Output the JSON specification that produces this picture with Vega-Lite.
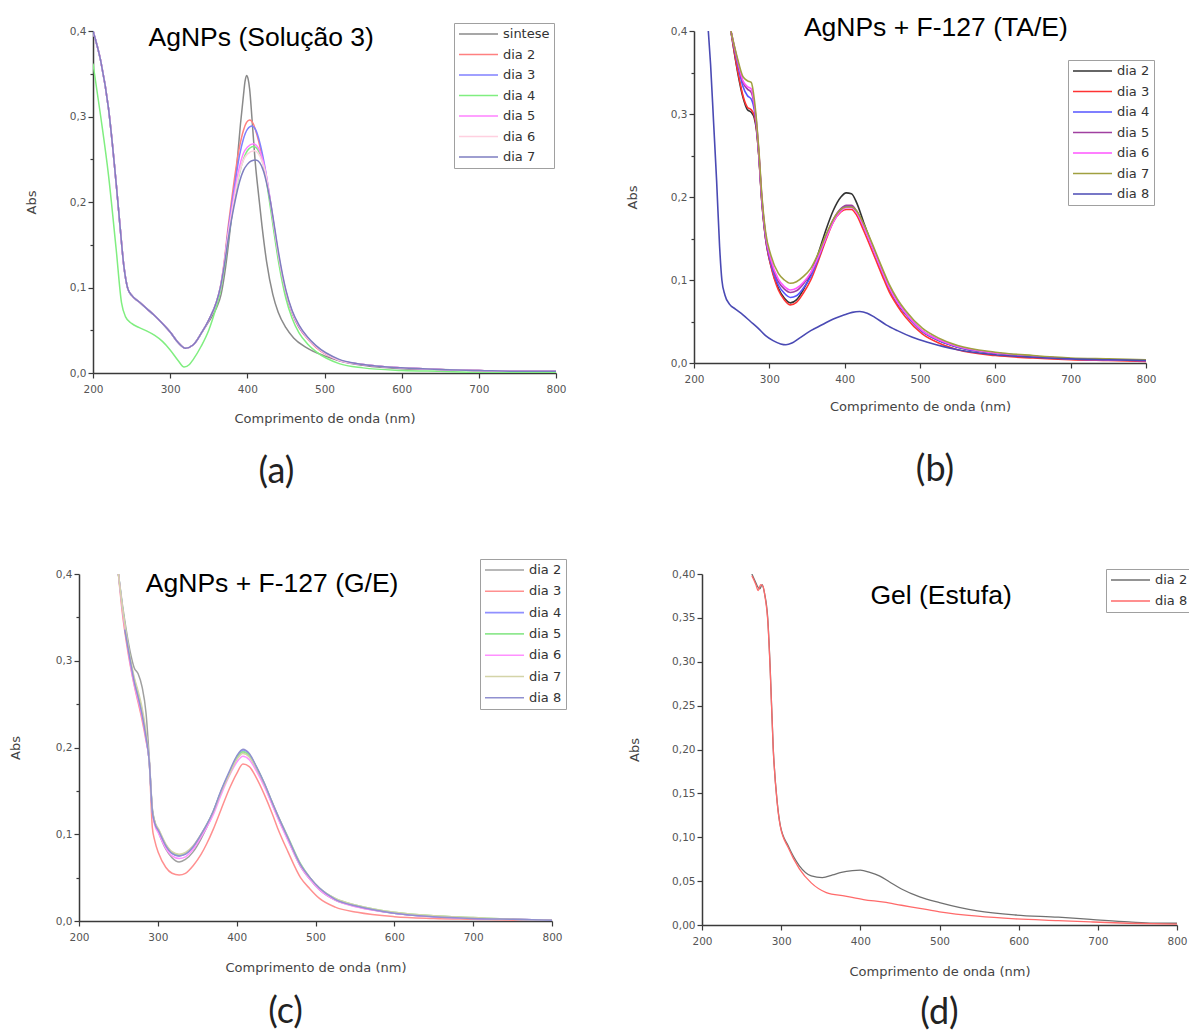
{
"$schema": "https://vega.github.io/schema/vega-lite/v6.json",
"background": "white",
"padding": {"left": 9, "top": 15, "right": 0, "bottom": 0},
"config": {
  "view": {"stroke": null},
  "font": "DejaVu Sans",
  "axis": {"grid": false, "domainColor": "#3a3a3a", "domainWidth": 1.5, "tickColor": "#3a3a3a", "tickWidth": 1.2, "labelFont": "DejaVu Sans", "labelFontSize": 10.5, "labelColor": "#555555", "labelPadding": 2, "titleFont": "DejaVu Sans", "titleFontSize": 13, "titleFontWeight": "normal", "titleColor": "#444444", "labelFlush": false, "labelOverlap": false},
  "axisX": {"labelPadding": 6},
  "legend": {"symbolType": "stroke", "symbolSize": 1521, "symbolStrokeWidth": 1.6, "clipHeight": 14, "rowPadding": 6.5, "padding": 4, "strokeColor": "#a0a0a0", "fillColor": "white", "labelFont": "DejaVu Sans", "labelFontSize": 13, "labelColor": "#333333", "labelOffset": 4}
},
"datasets": {
"a": [
{"s":"sintese","x":200,"y":0.4},{"s":"sintese","x":210,"y":0.365},{"s":"sintese","x":220,"y":0.31},{"s":"sintese","x":230,"y":0.222},{"s":"sintese","x":235,"y":0.172},{"s":"sintese","x":240,"y":0.125},{"s":"sintese","x":245,"y":0.099},{"s":"sintese","x":250,"y":0.091},{"s":"sintese","x":260,"y":0.083},{"s":"sintese","x":270,"y":0.075},{"s":"sintese","x":280,"y":0.067},{"s":"sintese","x":290,"y":0.058},{"s":"sintese","x":300,"y":0.048},{"s":"sintese","x":310,"y":0.036},{"s":"sintese","x":320,"y":0.029},{"s":"sintese","x":330,"y":0.033},{"s":"sintese","x":340,"y":0.046},
{"s":"sintese","x":350,"y":0.06},{"s":"sintese","x":360,"y":0.076},{"s":"sintese","x":366,"y":0.092},{"s":"sintese","x":372,"y":0.125},{"s":"sintese","x":378,"y":0.17},{"s":"sintese","x":383,"y":0.21},{"s":"sintese","x":387,"y":0.249},{"s":"sintese","x":391,"y":0.29},{"s":"sintese","x":395,"y":0.325},{"s":"sintese","x":397,"y":0.341},{"s":"sintese","x":399,"y":0.348},{"s":"sintese","x":401,"y":0.344},{"s":"sintese","x":403,"y":0.332},{"s":"sintese","x":406,"y":0.298},{"s":"sintese","x":410,"y":0.249},{"s":"sintese","x":415,"y":0.205},{"s":"sintese","x":419,"y":0.172},{"s":"sintese","x":425,"y":0.13},{"s":"sintese","x":433,"y":0.092},{"s":"sintese","x":440,"y":0.071},{"s":"sintese","x":450,"y":0.053},{"s":"sintese","x":460,"y":0.041},{"s":"sintese","x":476,"y":0.03},{"s":"sintese","x":500,"y":0.02},{"s":"sintese","x":520,"y":0.014},{"s":"sintese","x":550,"y":0.009},{"s":"sintese","x":600,"y":0.005},{"s":"sintese","x":650,"y":0.004},{"s":"sintese","x":700,"y":0.003},{"s":"sintese","x":750,"y":0.002},{"s":"sintese","x":800,"y":0.002},

{"s":"dia 2","x":200,"y":0.4},{"s":"dia 2","x":210,"y":0.365},{"s":"dia 2","x":220,"y":0.31},{"s":"dia 2","x":230,"y":0.222},{"s":"dia 2","x":235,"y":0.172},{"s":"dia 2","x":240,"y":0.125},{"s":"dia 2","x":245,"y":0.099},{"s":"dia 2","x":250,"y":0.091},{"s":"dia 2","x":260,"y":0.083},{"s":"dia 2","x":270,"y":0.075},{"s":"dia 2","x":280,"y":0.067},{"s":"dia 2","x":290,"y":0.058},{"s":"dia 2","x":300,"y":0.048},{"s":"dia 2","x":310,"y":0.036},{"s":"dia 2","x":320,"y":0.029},{"s":"dia 2","x":330,"y":0.033},{"s":"dia 2","x":340,"y":0.046},
{"s":"dia 2","x":350,"y":0.062},{"s":"dia 2","x":360,"y":0.083},{"s":"dia 2","x":365,"y":0.1},{"s":"dia 2","x":370,"y":0.13},{"s":"dia 2","x":375,"y":0.17},{"s":"dia 2","x":380,"y":0.205},{"s":"dia 2","x":385,"y":0.238},{"s":"dia 2","x":390,"y":0.265},{"s":"dia 2","x":395,"y":0.284},{"s":"dia 2","x":399,"y":0.293},{"s":"dia 2","x":403,"y":0.296},{"s":"dia 2","x":408,"y":0.291},{"s":"dia 2","x":412,"y":0.28},{"s":"dia 2","x":418,"y":0.258},{"s":"dia 2","x":424,"y":0.23},{"s":"dia 2","x":428,"y":0.21},{"s":"dia 2","x":434,"y":0.172},{"s":"dia 2","x":441,"y":0.131},{"s":"dia 2","x":450,"y":0.092},{"s":"dia 2","x":458,"y":0.07},{"s":"dia 2","x":467,"y":0.053},{"s":"dia 2","x":478,"y":0.04},{"s":"dia 2","x":489,"y":0.03},{"s":"dia 2","x":519,"y":0.015},{"s":"dia 2","x":550,"y":0.01},{"s":"dia 2","x":600,"y":0.006},{"s":"dia 2","x":650,"y":0.004},{"s":"dia 2","x":700,"y":0.003},{"s":"dia 2","x":750,"y":0.002},{"s":"dia 2","x":800,"y":0.002},

{"s":"dia 3","x":200,"y":0.4},{"s":"dia 3","x":210,"y":0.365},{"s":"dia 3","x":220,"y":0.31},{"s":"dia 3","x":230,"y":0.222},{"s":"dia 3","x":235,"y":0.172},{"s":"dia 3","x":240,"y":0.125},{"s":"dia 3","x":245,"y":0.099},{"s":"dia 3","x":250,"y":0.091},{"s":"dia 3","x":260,"y":0.083},{"s":"dia 3","x":270,"y":0.075},{"s":"dia 3","x":280,"y":0.067},{"s":"dia 3","x":290,"y":0.058},{"s":"dia 3","x":300,"y":0.048},{"s":"dia 3","x":310,"y":0.036},{"s":"dia 3","x":320,"y":0.029},{"s":"dia 3","x":330,"y":0.033},{"s":"dia 3","x":340,"y":0.046},
{"s":"dia 3","x":350,"y":0.062},{"s":"dia 3","x":360,"y":0.083},{"s":"dia 3","x":365,"y":0.099},{"s":"dia 3","x":370,"y":0.127},{"s":"dia 3","x":375,"y":0.165},{"s":"dia 3","x":380,"y":0.198},{"s":"dia 3","x":385,"y":0.228},{"s":"dia 3","x":390,"y":0.255},{"s":"dia 3","x":395,"y":0.274},{"s":"dia 3","x":400,"y":0.285},{"s":"dia 3","x":406,"y":0.289},{"s":"dia 3","x":411,"y":0.284},{"s":"dia 3","x":416,"y":0.27},{"s":"dia 3","x":422,"y":0.245},{"s":"dia 3","x":428,"y":0.212},{"s":"dia 3","x":434,"y":0.174},{"s":"dia 3","x":441,"y":0.133},{"s":"dia 3","x":450,"y":0.094},{"s":"dia 3","x":458,"y":0.071},{"s":"dia 3","x":467,"y":0.054},{"s":"dia 3","x":478,"y":0.041},{"s":"dia 3","x":489,"y":0.031},{"s":"dia 3","x":519,"y":0.015},{"s":"dia 3","x":550,"y":0.01},{"s":"dia 3","x":600,"y":0.006},{"s":"dia 3","x":650,"y":0.004},{"s":"dia 3","x":700,"y":0.003},{"s":"dia 3","x":750,"y":0.002},{"s":"dia 3","x":800,"y":0.002},

{"s":"dia 4","x":200,"y":0.362},{"s":"dia 4","x":210,"y":0.3},{"s":"dia 4","x":220,"y":0.232},{"s":"dia 4","x":230,"y":0.145},{"s":"dia 4","x":237,"y":0.082},{"s":"dia 4","x":242,"y":0.066},{"s":"dia 4","x":250,"y":0.058},{"s":"dia 4","x":260,"y":0.053},{"s":"dia 4","x":270,"y":0.049},{"s":"dia 4","x":280,"y":0.044},{"s":"dia 4","x":290,"y":0.037},{"s":"dia 4","x":300,"y":0.027},{"s":"dia 4","x":310,"y":0.015},{"s":"dia 4","x":318,"y":0.007},{"s":"dia 4","x":325,"y":0.01},{"s":"dia 4","x":330,"y":0.016},{"s":"dia 4","x":340,"y":0.031},
{"s":"dia 4","x":350,"y":0.05},{"s":"dia 4","x":360,"y":0.078},{"s":"dia 4","x":365,"y":0.095},{"s":"dia 4","x":370,"y":0.122},{"s":"dia 4","x":375,"y":0.155},{"s":"dia 4","x":380,"y":0.185},{"s":"dia 4","x":385,"y":0.212},{"s":"dia 4","x":390,"y":0.234},{"s":"dia 4","x":395,"y":0.25},{"s":"dia 4","x":400,"y":0.26},{"s":"dia 4","x":408,"y":0.265},{"s":"dia 4","x":413,"y":0.262},{"s":"dia 4","x":418,"y":0.252},{"s":"dia 4","x":423,"y":0.235},{"s":"dia 4","x":428,"y":0.205},{"s":"dia 4","x":434,"y":0.168},{"s":"dia 4","x":441,"y":0.127},{"s":"dia 4","x":450,"y":0.087},{"s":"dia 4","x":458,"y":0.064},{"s":"dia 4","x":467,"y":0.047},{"s":"dia 4","x":478,"y":0.034},{"s":"dia 4","x":489,"y":0.025},{"s":"dia 4","x":519,"y":0.011},{"s":"dia 4","x":550,"y":0.006},{"s":"dia 4","x":600,"y":0.003},{"s":"dia 4","x":650,"y":0.002},{"s":"dia 4","x":700,"y":0.001},{"s":"dia 4","x":750,"y":0.001},{"s":"dia 4","x":800,"y":0.001},

{"s":"dia 5","x":200,"y":0.4},{"s":"dia 5","x":210,"y":0.365},{"s":"dia 5","x":220,"y":0.31},{"s":"dia 5","x":230,"y":0.222},{"s":"dia 5","x":235,"y":0.172},{"s":"dia 5","x":240,"y":0.125},{"s":"dia 5","x":245,"y":0.099},{"s":"dia 5","x":250,"y":0.091},{"s":"dia 5","x":260,"y":0.083},{"s":"dia 5","x":270,"y":0.075},{"s":"dia 5","x":280,"y":0.067},{"s":"dia 5","x":290,"y":0.058},{"s":"dia 5","x":300,"y":0.048},{"s":"dia 5","x":310,"y":0.036},{"s":"dia 5","x":320,"y":0.029},{"s":"dia 5","x":330,"y":0.033},{"s":"dia 5","x":340,"y":0.046},
{"s":"dia 5","x":350,"y":0.062},{"s":"dia 5","x":360,"y":0.083},{"s":"dia 5","x":365,"y":0.1},{"s":"dia 5","x":370,"y":0.128},{"s":"dia 5","x":375,"y":0.162},{"s":"dia 5","x":380,"y":0.192},{"s":"dia 5","x":385,"y":0.22},{"s":"dia 5","x":390,"y":0.242},{"s":"dia 5","x":395,"y":0.257},{"s":"dia 5","x":400,"y":0.264},{"s":"dia 5","x":408,"y":0.268},{"s":"dia 5","x":413,"y":0.265},{"s":"dia 5","x":418,"y":0.255},{"s":"dia 5","x":423,"y":0.238},{"s":"dia 5","x":428,"y":0.212},{"s":"dia 5","x":434,"y":0.176},{"s":"dia 5","x":441,"y":0.135},{"s":"dia 5","x":450,"y":0.095},{"s":"dia 5","x":458,"y":0.072},{"s":"dia 5","x":467,"y":0.055},{"s":"dia 5","x":478,"y":0.041},{"s":"dia 5","x":489,"y":0.031},{"s":"dia 5","x":519,"y":0.015},{"s":"dia 5","x":550,"y":0.01},{"s":"dia 5","x":600,"y":0.006},{"s":"dia 5","x":650,"y":0.004},{"s":"dia 5","x":700,"y":0.003},{"s":"dia 5","x":750,"y":0.002},{"s":"dia 5","x":800,"y":0.002},

{"s":"dia 6","x":200,"y":0.4},{"s":"dia 6","x":210,"y":0.365},{"s":"dia 6","x":220,"y":0.31},{"s":"dia 6","x":230,"y":0.222},{"s":"dia 6","x":235,"y":0.172},{"s":"dia 6","x":240,"y":0.125},{"s":"dia 6","x":245,"y":0.099},{"s":"dia 6","x":250,"y":0.091},{"s":"dia 6","x":260,"y":0.083},{"s":"dia 6","x":270,"y":0.075},{"s":"dia 6","x":280,"y":0.067},{"s":"dia 6","x":290,"y":0.058},{"s":"dia 6","x":300,"y":0.048},{"s":"dia 6","x":310,"y":0.036},{"s":"dia 6","x":320,"y":0.029},{"s":"dia 6","x":330,"y":0.033},{"s":"dia 6","x":340,"y":0.046},
{"s":"dia 6","x":350,"y":0.062},{"s":"dia 6","x":360,"y":0.083},{"s":"dia 6","x":365,"y":0.1},{"s":"dia 6","x":370,"y":0.127},{"s":"dia 6","x":375,"y":0.16},{"s":"dia 6","x":380,"y":0.188},{"s":"dia 6","x":385,"y":0.214},{"s":"dia 6","x":390,"y":0.235},{"s":"dia 6","x":395,"y":0.249},{"s":"dia 6","x":400,"y":0.256},{"s":"dia 6","x":409,"y":0.26},{"s":"dia 6","x":414,"y":0.257},{"s":"dia 6","x":419,"y":0.248},{"s":"dia 6","x":424,"y":0.232},{"s":"dia 6","x":428,"y":0.211},{"s":"dia 6","x":434,"y":0.176},{"s":"dia 6","x":441,"y":0.135},{"s":"dia 6","x":450,"y":0.095},{"s":"dia 6","x":458,"y":0.072},{"s":"dia 6","x":467,"y":0.055},{"s":"dia 6","x":478,"y":0.041},{"s":"dia 6","x":489,"y":0.031},{"s":"dia 6","x":519,"y":0.015},{"s":"dia 6","x":550,"y":0.01},{"s":"dia 6","x":600,"y":0.006},{"s":"dia 6","x":650,"y":0.004},{"s":"dia 6","x":700,"y":0.003},{"s":"dia 6","x":750,"y":0.002},{"s":"dia 6","x":800,"y":0.002},

{"s":"dia 7","x":200,"y":0.4},{"s":"dia 7","x":210,"y":0.365},{"s":"dia 7","x":220,"y":0.31},{"s":"dia 7","x":230,"y":0.222},{"s":"dia 7","x":235,"y":0.172},{"s":"dia 7","x":240,"y":0.125},{"s":"dia 7","x":245,"y":0.099},{"s":"dia 7","x":250,"y":0.091},{"s":"dia 7","x":260,"y":0.083},{"s":"dia 7","x":270,"y":0.075},{"s":"dia 7","x":280,"y":0.067},{"s":"dia 7","x":290,"y":0.058},{"s":"dia 7","x":300,"y":0.048},{"s":"dia 7","x":310,"y":0.036},{"s":"dia 7","x":320,"y":0.029},{"s":"dia 7","x":330,"y":0.033},{"s":"dia 7","x":340,"y":0.046},
{"s":"dia 7","x":350,"y":0.062},{"s":"dia 7","x":360,"y":0.083},{"s":"dia 7","x":365,"y":0.1},{"s":"dia 7","x":370,"y":0.125},{"s":"dia 7","x":375,"y":0.155},{"s":"dia 7","x":380,"y":0.182},{"s":"dia 7","x":385,"y":0.205},{"s":"dia 7","x":390,"y":0.224},{"s":"dia 7","x":395,"y":0.237},{"s":"dia 7","x":400,"y":0.244},{"s":"dia 7","x":405,"y":0.248},{"s":"dia 7","x":411,"y":0.249},{"s":"dia 7","x":416,"y":0.246},{"s":"dia 7","x":421,"y":0.236},{"s":"dia 7","x":426,"y":0.218},{"s":"dia 7","x":430,"y":0.2},{"s":"dia 7","x":435,"y":0.172},{"s":"dia 7","x":441,"y":0.138},{"s":"dia 7","x":450,"y":0.097},{"s":"dia 7","x":458,"y":0.073},{"s":"dia 7","x":467,"y":0.056},{"s":"dia 7","x":478,"y":0.042},{"s":"dia 7","x":489,"y":0.032},{"s":"dia 7","x":519,"y":0.016},{"s":"dia 7","x":550,"y":0.01},{"s":"dia 7","x":600,"y":0.006},{"s":"dia 7","x":650,"y":0.004},{"s":"dia 7","x":700,"y":0.003},{"s":"dia 7","x":750,"y":0.002},{"s":"dia 7","x":800,"y":0.002}
],
"b": [
{"s":"dia 2","x":249,"y":0.4},{"s":"dia 2","x":258,"y":0.35},{"s":"dia 2","x":265,"y":0.32},{"s":"dia 2","x":271,"y":0.305},{"s":"dia 2","x":276,"y":0.302},{"s":"dia 2","x":280,"y":0.295},{"s":"dia 2","x":283,"y":0.28},{"s":"dia 2","x":286,"y":0.25},{"s":"dia 2","x":290,"y":0.195},{"s":"dia 2","x":295,"y":0.15},{"s":"dia 2","x":302,"y":0.118},{"s":"dia 2","x":312,"y":0.09},{"s":"dia 2","x":320,"y":0.078},{"s":"dia 2","x":328,"y":0.0725},{"s":"dia 2","x":336,"y":0.076},{"s":"dia 2","x":345,"y":0.088},{"s":"dia 2","x":355,"y":0.107},{"s":"dia 2","x":365,"y":0.132},{"s":"dia 2","x":375,"y":0.16},{"s":"dia 2","x":385,"y":0.184},{"s":"dia 2","x":395,"y":0.2},{"s":"dia 2","x":402,"y":0.205},{"s":"dia 2","x":409,"y":0.204},{"s":"dia 2","x":416,"y":0.193},{"s":"dia 2","x":425,"y":0.17},{"s":"dia 2","x":441,"y":0.131},{"s":"dia 2","x":450,"y":0.11},{"s":"dia 2","x":459,"y":0.09},{"s":"dia 2","x":470,"y":0.072},{"s":"dia 2","x":481,"y":0.059},{"s":"dia 2","x":503,"y":0.038},{"s":"dia 2","x":525,"y":0.027},{"s":"dia 2","x":550,"y":0.019},{"s":"dia 2","x":600,"y":0.012},{"s":"dia 2","x":650,"y":0.008},{"s":"dia 2","x":700,"y":0.005},{"s":"dia 2","x":750,"y":0.004},{"s":"dia 2","x":800,"y":0.003},

{"s":"dia 3","x":249,"y":0.4},{"s":"dia 3","x":258,"y":0.352},{"s":"dia 3","x":265,"y":0.322},{"s":"dia 3","x":271,"y":0.308},{"s":"dia 3","x":276,"y":0.305},{"s":"dia 3","x":280,"y":0.298},{"s":"dia 3","x":283,"y":0.282},{"s":"dia 3","x":286,"y":0.25},{"s":"dia 3","x":290,"y":0.195},{"s":"dia 3","x":295,"y":0.15},{"s":"dia 3","x":302,"y":0.117},{"s":"dia 3","x":312,"y":0.088},{"s":"dia 3","x":320,"y":0.076},{"s":"dia 3","x":328,"y":0.07},{"s":"dia 3","x":336,"y":0.073},{"s":"dia 3","x":345,"y":0.084},{"s":"dia 3","x":355,"y":0.1},{"s":"dia 3","x":365,"y":0.123},{"s":"dia 3","x":375,"y":0.148},{"s":"dia 3","x":385,"y":0.17},{"s":"dia 3","x":395,"y":0.182},{"s":"dia 3","x":402,"y":0.185},{"s":"dia 3","x":409,"y":0.185},{"s":"dia 3","x":416,"y":0.178},{"s":"dia 3","x":425,"y":0.16},{"s":"dia 3","x":441,"y":0.125},{"s":"dia 3","x":450,"y":0.105},{"s":"dia 3","x":459,"y":0.086},{"s":"dia 3","x":470,"y":0.069},{"s":"dia 3","x":481,"y":0.055},{"s":"dia 3","x":503,"y":0.035},{"s":"dia 3","x":525,"y":0.024},{"s":"dia 3","x":550,"y":0.016},{"s":"dia 3","x":600,"y":0.009},{"s":"dia 3","x":650,"y":0.006},{"s":"dia 3","x":700,"y":0.004},{"s":"dia 3","x":750,"y":0.003},{"s":"dia 3","x":800,"y":0.002},

{"s":"dia 4","x":249,"y":0.4},{"s":"dia 4","x":258,"y":0.36},{"s":"dia 4","x":265,"y":0.333},{"s":"dia 4","x":271,"y":0.322},{"s":"dia 4","x":276,"y":0.318},{"s":"dia 4","x":280,"y":0.305},{"s":"dia 4","x":283,"y":0.285},{"s":"dia 4","x":286,"y":0.252},{"s":"dia 4","x":290,"y":0.197},{"s":"dia 4","x":295,"y":0.152},{"s":"dia 4","x":302,"y":0.12},{"s":"dia 4","x":312,"y":0.094},{"s":"dia 4","x":320,"y":0.084},{"s":"dia 4","x":328,"y":0.079},{"s":"dia 4","x":336,"y":0.081},{"s":"dia 4","x":345,"y":0.09},{"s":"dia 4","x":355,"y":0.104},{"s":"dia 4","x":365,"y":0.126},{"s":"dia 4","x":375,"y":0.151},{"s":"dia 4","x":385,"y":0.172},{"s":"dia 4","x":395,"y":0.185},{"s":"dia 4","x":402,"y":0.189},{"s":"dia 4","x":409,"y":0.189},{"s":"dia 4","x":416,"y":0.182},{"s":"dia 4","x":425,"y":0.165},{"s":"dia 4","x":441,"y":0.13},{"s":"dia 4","x":450,"y":0.11},{"s":"dia 4","x":459,"y":0.091},{"s":"dia 4","x":470,"y":0.073},{"s":"dia 4","x":481,"y":0.059},{"s":"dia 4","x":503,"y":0.038},{"s":"dia 4","x":525,"y":0.027},{"s":"dia 4","x":550,"y":0.019},{"s":"dia 4","x":600,"y":0.012},{"s":"dia 4","x":650,"y":0.008},{"s":"dia 4","x":700,"y":0.005},{"s":"dia 4","x":750,"y":0.004},{"s":"dia 4","x":800,"y":0.003},

{"s":"dia 5","x":249,"y":0.4},{"s":"dia 5","x":258,"y":0.363},{"s":"dia 5","x":265,"y":0.338},{"s":"dia 5","x":271,"y":0.33},{"s":"dia 5","x":276,"y":0.326},{"s":"dia 5","x":280,"y":0.31},{"s":"dia 5","x":283,"y":0.288},{"s":"dia 5","x":286,"y":0.254},{"s":"dia 5","x":290,"y":0.199},{"s":"dia 5","x":295,"y":0.154},{"s":"dia 5","x":302,"y":0.123},{"s":"dia 5","x":312,"y":0.098},{"s":"dia 5","x":320,"y":0.089},{"s":"dia 5","x":328,"y":0.085},{"s":"dia 5","x":336,"y":0.087},{"s":"dia 5","x":345,"y":0.095},{"s":"dia 5","x":355,"y":0.108},{"s":"dia 5","x":365,"y":0.128},{"s":"dia 5","x":375,"y":0.152},{"s":"dia 5","x":385,"y":0.173},{"s":"dia 5","x":395,"y":0.186},{"s":"dia 5","x":402,"y":0.19},{"s":"dia 5","x":409,"y":0.19},{"s":"dia 5","x":416,"y":0.183},{"s":"dia 5","x":425,"y":0.166},{"s":"dia 5","x":441,"y":0.131},{"s":"dia 5","x":450,"y":0.111},{"s":"dia 5","x":459,"y":0.092},{"s":"dia 5","x":470,"y":0.074},{"s":"dia 5","x":481,"y":0.06},{"s":"dia 5","x":503,"y":0.039},{"s":"dia 5","x":525,"y":0.028},{"s":"dia 5","x":550,"y":0.02},{"s":"dia 5","x":600,"y":0.012},{"s":"dia 5","x":650,"y":0.008},{"s":"dia 5","x":700,"y":0.005},{"s":"dia 5","x":750,"y":0.004},{"s":"dia 5","x":800,"y":0.003},

{"s":"dia 6","x":249,"y":0.4},{"s":"dia 6","x":258,"y":0.364},{"s":"dia 6","x":265,"y":0.34},{"s":"dia 6","x":271,"y":0.333},{"s":"dia 6","x":276,"y":0.33},{"s":"dia 6","x":280,"y":0.312},{"s":"dia 6","x":283,"y":0.289},{"s":"dia 6","x":286,"y":0.255},{"s":"dia 6","x":290,"y":0.2},{"s":"dia 6","x":295,"y":0.155},{"s":"dia 6","x":302,"y":0.125},{"s":"dia 6","x":312,"y":0.101},{"s":"dia 6","x":320,"y":0.092},{"s":"dia 6","x":328,"y":0.088},{"s":"dia 6","x":336,"y":0.09},{"s":"dia 6","x":345,"y":0.097},{"s":"dia 6","x":355,"y":0.109},{"s":"dia 6","x":365,"y":0.128},{"s":"dia 6","x":375,"y":0.15},{"s":"dia 6","x":385,"y":0.17},{"s":"dia 6","x":395,"y":0.183},{"s":"dia 6","x":402,"y":0.187},{"s":"dia 6","x":409,"y":0.187},{"s":"dia 6","x":416,"y":0.181},{"s":"dia 6","x":425,"y":0.165},{"s":"dia 6","x":441,"y":0.13},{"s":"dia 6","x":450,"y":0.11},{"s":"dia 6","x":459,"y":0.091},{"s":"dia 6","x":470,"y":0.073},{"s":"dia 6","x":481,"y":0.06},{"s":"dia 6","x":503,"y":0.039},{"s":"dia 6","x":525,"y":0.028},{"s":"dia 6","x":550,"y":0.02},{"s":"dia 6","x":600,"y":0.012},{"s":"dia 6","x":650,"y":0.008},{"s":"dia 6","x":700,"y":0.005},{"s":"dia 6","x":750,"y":0.004},{"s":"dia 6","x":800,"y":0.003},

{"s":"dia 7","x":249,"y":0.4},{"s":"dia 7","x":258,"y":0.366},{"s":"dia 7","x":265,"y":0.345},{"s":"dia 7","x":271,"y":0.34},{"s":"dia 7","x":276,"y":0.338},{"s":"dia 7","x":280,"y":0.318},{"s":"dia 7","x":283,"y":0.292},{"s":"dia 7","x":286,"y":0.258},{"s":"dia 7","x":290,"y":0.203},{"s":"dia 7","x":295,"y":0.158},{"s":"dia 7","x":302,"y":0.13},{"s":"dia 7","x":312,"y":0.108},{"s":"dia 7","x":320,"y":0.1},{"s":"dia 7","x":328,"y":0.096},{"s":"dia 7","x":336,"y":0.098},{"s":"dia 7","x":345,"y":0.104},{"s":"dia 7","x":355,"y":0.114},{"s":"dia 7","x":365,"y":0.132},{"s":"dia 7","x":375,"y":0.154},{"s":"dia 7","x":385,"y":0.173},{"s":"dia 7","x":395,"y":0.185},{"s":"dia 7","x":402,"y":0.188},{"s":"dia 7","x":409,"y":0.188},{"s":"dia 7","x":416,"y":0.183},{"s":"dia 7","x":425,"y":0.168},{"s":"dia 7","x":441,"y":0.134},{"s":"dia 7","x":450,"y":0.114},{"s":"dia 7","x":459,"y":0.095},{"s":"dia 7","x":470,"y":0.077},{"s":"dia 7","x":481,"y":0.063},{"s":"dia 7","x":503,"y":0.042},{"s":"dia 7","x":525,"y":0.03},{"s":"dia 7","x":550,"y":0.021},{"s":"dia 7","x":600,"y":0.013},{"s":"dia 7","x":650,"y":0.009},{"s":"dia 7","x":700,"y":0.006},{"s":"dia 7","x":750,"y":0.005},{"s":"dia 7","x":800,"y":0.004},

{"s":"dia 8","x":219,"y":0.4},{"s":"dia 8","x":222,"y":0.36},{"s":"dia 8","x":226,"y":0.29},{"s":"dia 8","x":230,"y":0.22},{"s":"dia 8","x":234,"y":0.14},{"s":"dia 8","x":237,"y":0.1},{"s":"dia 8","x":241,"y":0.082},{"s":"dia 8","x":247,"y":0.071},{"s":"dia 8","x":255,"y":0.065},{"s":"dia 8","x":265,"y":0.058},{"s":"dia 8","x":275,"y":0.05},{"s":"dia 8","x":285,"y":0.042},{"s":"dia 8","x":295,"y":0.033},{"s":"dia 8","x":305,"y":0.027},{"s":"dia 8","x":315,"y":0.023},{"s":"dia 8","x":322,"y":0.022},{"s":"dia 8","x":330,"y":0.024},{"s":"dia 8","x":340,"y":0.03},{"s":"dia 8","x":355,"y":0.039},{"s":"dia 8","x":370,"y":0.046},{"s":"dia 8","x":385,"y":0.053},{"s":"dia 8","x":400,"y":0.058},{"s":"dia 8","x":410,"y":0.061},{"s":"dia 8","x":420,"y":0.062},{"s":"dia 8","x":430,"y":0.06},{"s":"dia 8","x":440,"y":0.055},{"s":"dia 8","x":455,"y":0.046},{"s":"dia 8","x":470,"y":0.039},{"s":"dia 8","x":490,"y":0.031},{"s":"dia 8","x":510,"y":0.025},{"s":"dia 8","x":530,"y":0.02},{"s":"dia 8","x":550,"y":0.016},{"s":"dia 8","x":600,"y":0.01},{"s":"dia 8","x":650,"y":0.007},{"s":"dia 8","x":700,"y":0.005},{"s":"dia 8","x":750,"y":0.004},{"s":"dia 8","x":800,"y":0.003}
],
"c": [
{"s":"dia 2","x":250,"y":0.4},{"s":"dia 2","x":255,"y":0.365},{"s":"dia 2","x":260,"y":0.335},{"s":"dia 2","x":265,"y":0.31},{"s":"dia 2","x":270,"y":0.292},{"s":"dia 2","x":275,"y":0.285},{"s":"dia 2","x":280,"y":0.27},{"s":"dia 2","x":285,"y":0.24},{"s":"dia 2","x":289,"y":0.19},{"s":"dia 2","x":293,"y":0.13},{"s":"dia 2","x":296,"y":0.115},{"s":"dia 2","x":301,"y":0.102},{"s":"dia 2","x":310,"y":0.083},{"s":"dia 2","x":318,"y":0.073},{"s":"dia 2","x":327,"y":0.068},{"s":"dia 2","x":335,"y":0.071},{"s":"dia 2","x":345,"y":0.08},{"s":"dia 2","x":355,"y":0.095},{"s":"dia 2","x":362,"y":0.108},{"s":"dia 2","x":370,"y":0.124},{"s":"dia 2","x":380,"y":0.148},{"s":"dia 2","x":391,"y":0.17},{"s":"dia 2","x":400,"y":0.187},{"s":"dia 2","x":408,"y":0.195},{"s":"dia 2","x":416,"y":0.19},{"s":"dia 2","x":425,"y":0.176},{"s":"dia 2","x":435,"y":0.157},{"s":"dia 2","x":445,"y":0.135},{"s":"dia 2","x":452,"y":0.12},{"s":"dia 2","x":465,"y":0.094},{"s":"dia 2","x":481,"y":0.063},{"s":"dia 2","x":493,"y":0.048},{"s":"dia 2","x":505,"y":0.036},{"s":"dia 2","x":525,"y":0.024},{"s":"dia 2","x":553,"y":0.0165},{"s":"dia 2","x":600,"y":0.009},{"s":"dia 2","x":650,"y":0.005},{"s":"dia 2","x":700,"y":0.003},{"s":"dia 2","x":750,"y":0.002},{"s":"dia 2","x":800,"y":0.001},

{"s":"dia 3","x":250,"y":0.4},{"s":"dia 3","x":255,"y":0.355},{"s":"dia 3","x":260,"y":0.322},{"s":"dia 3","x":265,"y":0.295},{"s":"dia 3","x":270,"y":0.272},{"s":"dia 3","x":275,"y":0.252},{"s":"dia 3","x":280,"y":0.232},{"s":"dia 3","x":285,"y":0.208},{"s":"dia 3","x":289,"y":0.185},{"s":"dia 3","x":293,"y":0.108},{"s":"dia 3","x":296,"y":0.093},{"s":"dia 3","x":301,"y":0.078},{"s":"dia 3","x":310,"y":0.062},{"s":"dia 3","x":318,"y":0.055},{"s":"dia 3","x":327,"y":0.053},{"s":"dia 3","x":335,"y":0.055},{"s":"dia 3","x":345,"y":0.064},{"s":"dia 3","x":355,"y":0.077},{"s":"dia 3","x":362,"y":0.089},{"s":"dia 3","x":370,"y":0.105},{"s":"dia 3","x":380,"y":0.128},{"s":"dia 3","x":391,"y":0.153},{"s":"dia 3","x":400,"y":0.17},{"s":"dia 3","x":408,"y":0.181},{"s":"dia 3","x":416,"y":0.178},{"s":"dia 3","x":425,"y":0.165},{"s":"dia 3","x":435,"y":0.146},{"s":"dia 3","x":445,"y":0.124},{"s":"dia 3","x":452,"y":0.107},{"s":"dia 3","x":465,"y":0.08},{"s":"dia 3","x":481,"y":0.05},{"s":"dia 3","x":493,"y":0.037},{"s":"dia 3","x":505,"y":0.026},{"s":"dia 3","x":525,"y":0.016},{"s":"dia 3","x":553,"y":0.01},{"s":"dia 3","x":600,"y":0.005},{"s":"dia 3","x":650,"y":0.003},{"s":"dia 3","x":700,"y":0.002},{"s":"dia 3","x":750,"y":0.001},{"s":"dia 3","x":800,"y":0.001},

{"s":"dia 4","x":250,"y":0.4},{"s":"dia 4","x":255,"y":0.362},{"s":"dia 4","x":260,"y":0.33},{"s":"dia 4","x":265,"y":0.3},{"s":"dia 4","x":270,"y":0.276},{"s":"dia 4","x":275,"y":0.258},{"s":"dia 4","x":280,"y":0.238},{"s":"dia 4","x":285,"y":0.212},{"s":"dia 4","x":289,"y":0.185},{"s":"dia 4","x":293,"y":0.127},{"s":"dia 4","x":296,"y":0.113},{"s":"dia 4","x":301,"y":0.104},{"s":"dia 4","x":310,"y":0.087},{"s":"dia 4","x":318,"y":0.078},{"s":"dia 4","x":327,"y":0.075},{"s":"dia 4","x":335,"y":0.077},{"s":"dia 4","x":345,"y":0.085},{"s":"dia 4","x":355,"y":0.099},{"s":"dia 4","x":362,"y":0.11},{"s":"dia 4","x":370,"y":0.125},{"s":"dia 4","x":380,"y":0.149},{"s":"dia 4","x":391,"y":0.171},{"s":"dia 4","x":400,"y":0.189},{"s":"dia 4","x":408,"y":0.197},{"s":"dia 4","x":416,"y":0.192},{"s":"dia 4","x":425,"y":0.177},{"s":"dia 4","x":435,"y":0.158},{"s":"dia 4","x":445,"y":0.136},{"s":"dia 4","x":452,"y":0.121},{"s":"dia 4","x":465,"y":0.095},{"s":"dia 4","x":481,"y":0.064},{"s":"dia 4","x":493,"y":0.049},{"s":"dia 4","x":505,"y":0.037},{"s":"dia 4","x":525,"y":0.025},{"s":"dia 4","x":553,"y":0.017},{"s":"dia 4","x":600,"y":0.009},{"s":"dia 4","x":650,"y":0.005},{"s":"dia 4","x":700,"y":0.003},{"s":"dia 4","x":750,"y":0.002},{"s":"dia 4","x":800,"y":0.001},

{"s":"dia 5","x":250,"y":0.4},{"s":"dia 5","x":255,"y":0.362},{"s":"dia 5","x":260,"y":0.33},{"s":"dia 5","x":265,"y":0.302},{"s":"dia 5","x":270,"y":0.279},{"s":"dia 5","x":275,"y":0.262},{"s":"dia 5","x":280,"y":0.242},{"s":"dia 5","x":285,"y":0.214},{"s":"dia 5","x":289,"y":0.185},{"s":"dia 5","x":293,"y":0.128},{"s":"dia 5","x":296,"y":0.114},{"s":"dia 5","x":301,"y":0.105},{"s":"dia 5","x":310,"y":0.088},{"s":"dia 5","x":318,"y":0.079},{"s":"dia 5","x":327,"y":0.076},{"s":"dia 5","x":335,"y":0.078},{"s":"dia 5","x":345,"y":0.086},{"s":"dia 5","x":355,"y":0.1},{"s":"dia 5","x":362,"y":0.111},{"s":"dia 5","x":370,"y":0.126},{"s":"dia 5","x":380,"y":0.149},{"s":"dia 5","x":391,"y":0.171},{"s":"dia 5","x":400,"y":0.188},{"s":"dia 5","x":408,"y":0.195},{"s":"dia 5","x":416,"y":0.191},{"s":"dia 5","x":425,"y":0.178},{"s":"dia 5","x":435,"y":0.159},{"s":"dia 5","x":445,"y":0.137},{"s":"dia 5","x":452,"y":0.122},{"s":"dia 5","x":465,"y":0.097},{"s":"dia 5","x":481,"y":0.066},{"s":"dia 5","x":493,"y":0.05},{"s":"dia 5","x":505,"y":0.038},{"s":"dia 5","x":525,"y":0.026},{"s":"dia 5","x":553,"y":0.018},{"s":"dia 5","x":600,"y":0.01},{"s":"dia 5","x":650,"y":0.006},{"s":"dia 5","x":700,"y":0.004},{"s":"dia 5","x":750,"y":0.002},{"s":"dia 5","x":800,"y":0.001},

{"s":"dia 6","x":250,"y":0.4},{"s":"dia 6","x":255,"y":0.36},{"s":"dia 6","x":260,"y":0.327},{"s":"dia 6","x":265,"y":0.297},{"s":"dia 6","x":270,"y":0.273},{"s":"dia 6","x":275,"y":0.255},{"s":"dia 6","x":280,"y":0.236},{"s":"dia 6","x":285,"y":0.21},{"s":"dia 6","x":289,"y":0.185},{"s":"dia 6","x":293,"y":0.126},{"s":"dia 6","x":296,"y":0.111},{"s":"dia 6","x":301,"y":0.101},{"s":"dia 6","x":310,"y":0.084},{"s":"dia 6","x":318,"y":0.075},{"s":"dia 6","x":327,"y":0.072},{"s":"dia 6","x":335,"y":0.074},{"s":"dia 6","x":345,"y":0.083},{"s":"dia 6","x":355,"y":0.097},{"s":"dia 6","x":362,"y":0.108},{"s":"dia 6","x":370,"y":0.122},{"s":"dia 6","x":380,"y":0.145},{"s":"dia 6","x":391,"y":0.168},{"s":"dia 6","x":400,"y":0.183},{"s":"dia 6","x":408,"y":0.19},{"s":"dia 6","x":416,"y":0.186},{"s":"dia 6","x":425,"y":0.173},{"s":"dia 6","x":435,"y":0.155},{"s":"dia 6","x":445,"y":0.134},{"s":"dia 6","x":452,"y":0.119},{"s":"dia 6","x":465,"y":0.093},{"s":"dia 6","x":481,"y":0.063},{"s":"dia 6","x":493,"y":0.048},{"s":"dia 6","x":505,"y":0.036},{"s":"dia 6","x":525,"y":0.024},{"s":"dia 6","x":553,"y":0.016},{"s":"dia 6","x":600,"y":0.009},{"s":"dia 6","x":650,"y":0.005},{"s":"dia 6","x":700,"y":0.003},{"s":"dia 6","x":750,"y":0.002},{"s":"dia 6","x":800,"y":0.001},

{"s":"dia 7","x":250,"y":0.4},{"s":"dia 7","x":255,"y":0.362},{"s":"dia 7","x":260,"y":0.331},{"s":"dia 7","x":265,"y":0.303},{"s":"dia 7","x":270,"y":0.281},{"s":"dia 7","x":275,"y":0.265},{"s":"dia 7","x":280,"y":0.246},{"s":"dia 7","x":285,"y":0.218},{"s":"dia 7","x":289,"y":0.186},{"s":"dia 7","x":293,"y":0.129},{"s":"dia 7","x":296,"y":0.115},{"s":"dia 7","x":301,"y":0.106},{"s":"dia 7","x":310,"y":0.089},{"s":"dia 7","x":318,"y":0.08},{"s":"dia 7","x":327,"y":0.077},{"s":"dia 7","x":335,"y":0.079},{"s":"dia 7","x":345,"y":0.087},{"s":"dia 7","x":355,"y":0.1},{"s":"dia 7","x":362,"y":0.111},{"s":"dia 7","x":370,"y":0.125},{"s":"dia 7","x":380,"y":0.148},{"s":"dia 7","x":391,"y":0.169},{"s":"dia 7","x":400,"y":0.186},{"s":"dia 7","x":408,"y":0.193},{"s":"dia 7","x":416,"y":0.189},{"s":"dia 7","x":425,"y":0.176},{"s":"dia 7","x":435,"y":0.158},{"s":"dia 7","x":445,"y":0.137},{"s":"dia 7","x":452,"y":0.122},{"s":"dia 7","x":465,"y":0.096},{"s":"dia 7","x":481,"y":0.065},{"s":"dia 7","x":493,"y":0.05},{"s":"dia 7","x":505,"y":0.038},{"s":"dia 7","x":525,"y":0.026},{"s":"dia 7","x":553,"y":0.018},{"s":"dia 7","x":600,"y":0.01},{"s":"dia 7","x":650,"y":0.006},{"s":"dia 7","x":700,"y":0.004},{"s":"dia 7","x":750,"y":0.002},{"s":"dia 7","x":800,"y":0.001},

{"s":"dia 8","x":258,"y":0.336},{"s":"dia 8","x":260,"y":0.326},{"s":"dia 8","x":265,"y":0.3},{"s":"dia 8","x":270,"y":0.276},{"s":"dia 8","x":275,"y":0.258},{"s":"dia 8","x":280,"y":0.238},{"s":"dia 8","x":285,"y":0.212},{"s":"dia 8","x":289,"y":0.185},{"s":"dia 8","x":293,"y":0.127},{"s":"dia 8","x":296,"y":0.113},{"s":"dia 8","x":301,"y":0.104},{"s":"dia 8","x":310,"y":0.087},{"s":"dia 8","x":318,"y":0.078},{"s":"dia 8","x":327,"y":0.075},{"s":"dia 8","x":335,"y":0.077},{"s":"dia 8","x":345,"y":0.086},{"s":"dia 8","x":355,"y":0.1},{"s":"dia 8","x":362,"y":0.111},{"s":"dia 8","x":370,"y":0.126},{"s":"dia 8","x":380,"y":0.15},{"s":"dia 8","x":391,"y":0.173},{"s":"dia 8","x":400,"y":0.19},{"s":"dia 8","x":408,"y":0.198},{"s":"dia 8","x":416,"y":0.193},{"s":"dia 8","x":425,"y":0.178},{"s":"dia 8","x":435,"y":0.159},{"s":"dia 8","x":445,"y":0.137},{"s":"dia 8","x":452,"y":0.122},{"s":"dia 8","x":465,"y":0.096},{"s":"dia 8","x":481,"y":0.065},{"s":"dia 8","x":493,"y":0.05},{"s":"dia 8","x":505,"y":0.038},{"s":"dia 8","x":525,"y":0.025},{"s":"dia 8","x":553,"y":0.017},{"s":"dia 8","x":600,"y":0.009},{"s":"dia 8","x":650,"y":0.005},{"s":"dia 8","x":700,"y":0.003},{"s":"dia 8","x":750,"y":0.002},{"s":"dia 8","x":800,"y":0.001}
],
"d": [
{"s":"dia 2","x":263,"y":0.4},{"s":"dia 2","x":267,"y":0.392},{"s":"dia 2","x":270,"y":0.386},{"s":"dia 2","x":273,"y":0.383},{"s":"dia 2","x":276,"y":0.388},{"s":"dia 2","x":279,"y":0.378},{"s":"dia 2","x":283,"y":0.35},{"s":"dia 2","x":286,"y":0.296},{"s":"dia 2","x":290,"y":0.201},{"s":"dia 2","x":295,"y":0.14},{"s":"dia 2","x":299,"y":0.113},{"s":"dia 2","x":309,"y":0.09},{"s":"dia 2","x":323,"y":0.0675},{"s":"dia 2","x":338,"y":0.056},{"s":"dia 2","x":352,"y":0.054},{"s":"dia 2","x":365,"y":0.057},{"s":"dia 2","x":376,"y":0.06},{"s":"dia 2","x":390,"y":0.062},{"s":"dia 2","x":400,"y":0.0625},{"s":"dia 2","x":412,"y":0.06},{"s":"dia 2","x":424,"y":0.056},{"s":"dia 2","x":437,"y":0.049},{"s":"dia 2","x":452,"y":0.041},{"s":"dia 2","x":475,"y":0.032},{"s":"dia 2","x":500,"y":0.0255},{"s":"dia 2","x":548,"y":0.016},{"s":"dia 2","x":596,"y":0.0114},{"s":"dia 2","x":650,"y":0.009},{"s":"dia 2","x":691,"y":0.0065},{"s":"dia 2","x":739,"y":0.0035},{"s":"dia 2","x":770,"y":0.002},{"s":"dia 2","x":800,"y":0.002},
{"s":"dia 8","x":263,"y":0.398},{"s":"dia 8","x":268,"y":0.388},{"s":"dia 8","x":271,"y":0.381},{"s":"dia 8","x":274,"y":0.388},{"s":"dia 8","x":277,"y":0.386},{"s":"dia 8","x":280,"y":0.372},{"s":"dia 8","x":283,"y":0.348},{"s":"dia 8","x":286,"y":0.294},{"s":"dia 8","x":290,"y":0.2},{"s":"dia 8","x":295,"y":0.139},{"s":"dia 8","x":299,"y":0.112},{"s":"dia 8","x":309,"y":0.088},{"s":"dia 8","x":323,"y":0.064},{"s":"dia 8","x":338,"y":0.048},{"s":"dia 8","x":357,"y":0.037},{"s":"dia 8","x":381,"y":0.033},{"s":"dia 8","x":404,"y":0.029},{"s":"dia 8","x":430,"y":0.026},{"s":"dia 8","x":452,"y":0.0225},{"s":"dia 8","x":475,"y":0.019},{"s":"dia 8","x":500,"y":0.015},{"s":"dia 8","x":548,"y":0.01},{"s":"dia 8","x":596,"y":0.007},{"s":"dia 8","x":650,"y":0.005},{"s":"dia 8","x":691,"y":0.0035},{"s":"dia 8","x":739,"y":0.002},{"s":"dia 8","x":800,"y":0.001}
]
},
"resolve": {"scale": {"color": "independent", "x": "independent", "y": "independent"}, "legend": {"color": "independent"}},
"spacing": 68,
"vconcat": [
{
"hconcat": [
{"width": 1, "height": 1, "data": {"values": []}, "mark": "point"},
{
"hconcat": [
{
"width": 463, "height": 342,
"title": {"text": "(a)", "orient": "bottom", "frame": "group", "anchor": "middle", "dx": -48, "offset": 29, "fontSize": 36, "font": "Lato", "fontWeight": "normal", "color": "#222222"},
"layer": [
{"data": {"name": "a"}, "mark": {"type": "line", "interpolate": "monotone", "strokeWidth": 1.5, "clip": true},
"encoding": {
"x": {"field": "x", "type": "quantitative", "scale": {"domain": [200, 800], "nice": false, "zero": false}, "axis": {"title": "Comprimento de onda (nm)", "values": [200,250,300,350,400,450,500,550,600,650,700,750,800], "labelExpr": "datum.value % 100 === 0 ? datum.label : ''", "tickSize": {"condition": {"test": "datum.value % 100 === 0", "value": 5}, "value": 3}, "titlePadding": 18}},
"y": {"field": "y", "type": "quantitative", "scale": {"domain": [0, 0.4], "nice": false}, "axis": {"title": "Abs", "values": [0,0.05,0.1,0.15,0.2,0.25,0.3,0.35,0.4], "labelExpr": "round(datum.value*100) % 10 === 0 ? replace(format(datum.value, '.1f'), '.', ',') : ''", "tickSize": {"condition": {"test": "round(datum.value*100) % 10 === 0", "value": 5}, "value": 3}, "titlePadding": 31}},
"color": {"field": "s", "type": "nominal", "scale": {"domain": ["sintese","dia 2","dia 3","dia 4","dia 5","dia 6","dia 7"], "range": ["#8a8a8a","#ff8080","#8080ff","#80ee80","#ff80ff","#ffd0e0","#7e7ec0"]}, "legend": {"title": null, "orient": "none", "legendX": 361, "legendY": -8}}
}},
{"data": {"values": [{}]}, "mark": {"type": "text", "font": "Liberation Sans", "fontSize": 26.5, "align": "center", "baseline": "middle", "color": "#000000"},
"encoding": {"x": {"datum": 418}, "y": {"datum": 0.392}, "text": {"value": "AgNPs (Solução 3)"}}}
]
},
{
"width": 452, "height": 332,
"title": {"text": "(b)", "orient": "bottom", "frame": "group", "anchor": "middle", "dx": 15, "offset": 39, "fontSize": 36, "font": "Lato", "fontWeight": "normal", "color": "#222222"},
"layer": [
{"data": {"name": "b"}, "mark": {"type": "line", "interpolate": "monotone", "strokeWidth": 1.6, "clip": true},
"encoding": {
"x": {"field": "x", "type": "quantitative", "scale": {"domain": [200, 800], "nice": false, "zero": false}, "axis": {"title": "Comprimento de onda (nm)", "values": [200,250,300,350,400,450,500,550,600,650,700,750,800], "labelExpr": "datum.value % 100 === 0 ? datum.label : ''", "tickSize": {"condition": {"test": "datum.value % 100 === 0", "value": 5}, "value": 3}, "titlePadding": 16}},
"y": {"field": "y", "type": "quantitative", "scale": {"domain": [0, 0.4], "nice": false}, "axis": {"title": "Abs", "values": [0,0.05,0.1,0.15,0.2,0.25,0.3,0.35,0.4], "labelExpr": "round(datum.value*100) % 10 === 0 ? replace(format(datum.value, '.1f'), '.', ',') : ''", "tickSize": {"condition": {"test": "round(datum.value*100) % 10 === 0", "value": 5}, "value": 3}, "titlePadding": 31}},
"color": {"field": "s", "type": "nominal", "scale": {"domain": ["dia 2","dia 3","dia 4","dia 5","dia 6","dia 7","dia 8"], "range": ["#333333","#ff3333","#5555ff","#a040a0","#ff55ff","#a0a040","#4a4ab4"]}, "legend": {"title": null, "orient": "none", "legendX": 374, "legendY": 29}}
}},
{"data": {"values": [{}]}, "mark": {"type": "text", "font": "Liberation Sans", "fontSize": 26.5, "align": "center", "baseline": "middle", "color": "#000000"},
"encoding": {"x": {"datum": 521}, "y": {"datum": 0.4036}, "text": {"value": "AgNPs + F-127 (TA/E)"}}}
]
}
],
"bounds": "flush",
"spacing": 138,
"resolve": {"scale": {"color": "independent", "x": "independent", "y": "independent"}, "legend": {"color": "independent"}}
}
],
"bounds": "flush",
"spacing": 13,
"resolve": {"scale": {"color": "independent", "x": "independent", "y": "independent"}, "legend": {"color": "independent"}}
},
{
"hconcat": [
{
"width": 473, "height": 347,
"title": {"text": "(c)", "orient": "bottom", "frame": "group", "anchor": "middle", "dx": -30, "offset": 20, "fontSize": 36, "font": "Lato", "fontWeight": "normal", "color": "#222222"},
"layer": [
{"data": {"name": "c"}, "mark": {"type": "line", "interpolate": "monotone", "strokeWidth": 1.5, "clip": true},
"encoding": {
"x": {"field": "x", "type": "quantitative", "scale": {"domain": [200, 800], "nice": false, "zero": false}, "axis": {"title": "Comprimento de onda (nm)", "values": [200,250,300,350,400,450,500,550,600,650,700,750,800], "labelExpr": "datum.value % 100 === 0 ? datum.label : ''", "tickSize": {"condition": {"test": "datum.value % 100 === 0", "value": 5}, "value": 3}, "titlePadding": 19}},
"y": {"field": "y", "type": "quantitative", "scale": {"domain": [0, 0.4], "nice": false}, "axis": {"title": "Abs", "values": [0,0.05,0.1,0.15,0.2,0.25,0.3,0.35,0.4], "labelExpr": "round(datum.value*100) % 10 === 0 ? replace(format(datum.value, '.1f'), '.', ',') : ''", "tickSize": {"condition": {"test": "round(datum.value*100) % 10 === 0", "value": 5}, "value": 3}, "titlePadding": 33}},
"color": {"field": "s", "type": "nominal", "scale": {"domain": ["dia 2","dia 3","dia 4","dia 5","dia 6","dia 7","dia 8"], "range": ["#a0a0a0","#ff9090","#9090ff","#90e890","#ff90ff","#d4d4a8","#9090d0"]}, "legend": {"title": null, "orient": "none", "legendX": 401, "legendY": -15, "rowPadding": 7.3}}
}},
{"data": {"values": [{}]}, "mark": {"type": "text", "font": "Liberation Sans", "fontSize": 26.5, "align": "center", "baseline": "middle", "color": "#000000"},
"encoding": {"x": {"datum": 445}, "y": {"datum": 0.388}, "text": {"value": "AgNPs + F-127 (G/E)"}}}
]
},
{
"width": 475, "height": 351,
"title": {"text": "(d)", "orient": "bottom", "frame": "group", "anchor": "middle", "dx": 0, "offset": 17, "fontSize": 36, "font": "Lato", "fontWeight": "normal", "color": "#222222"},
"layer": [
{"data": {"name": "d"}, "mark": {"type": "line", "interpolate": "monotone", "strokeWidth": 1.3, "clip": true},
"encoding": {
"x": {"field": "x", "type": "quantitative", "scale": {"domain": [200, 800], "nice": false, "zero": false}, "axis": {"title": "Comprimento de onda (nm)", "values": [200,250,300,350,400,450,500,550,600,650,700,750,800], "labelExpr": "datum.value % 100 === 0 ? datum.label : ''", "tickSize": {"condition": {"test": "datum.value % 100 === 0", "value": 5}, "value": 3}, "titlePadding": 19}},
"y": {"field": "y", "type": "quantitative", "scale": {"domain": [0, 0.4], "nice": false}, "axis": {"title": "Abs", "values": [0,0.025,0.05,0.075,0.1,0.125,0.15,0.175,0.2,0.225,0.25,0.275,0.3,0.325,0.35,0.375,0.4], "labelExpr": "round(datum.value*1000) % 50 === 0 ? replace(format(datum.value, '.2f'), '.', ',') : ''", "tickSize": {"condition": {"test": "round(datum.value*1000) % 50 === 0", "value": 5}, "value": 3}, "titlePadding": 30}},
"color": {"field": "s", "type": "nominal", "scale": {"domain": ["dia 2","dia 8"], "range": ["#707070","#ff6a6a"]}, "legend": {"title": null, "orient": "none", "legendX": 404, "legendY": -5, "rowPadding": 7}}
}},
{"data": {"values": [{}]}, "mark": {"type": "text", "font": "Liberation Sans", "fontSize": 26.5, "align": "center", "baseline": "middle", "color": "#000000"},
"encoding": {"x": {"datum": 502}, "y": {"datum": 0.375}, "text": {"value": "Gel (Estufa)"}}}
]
}
],
"bounds": "flush",
"spacing": 150,
"resolve": {"scale": {"color": "independent", "x": "independent", "y": "independent"}, "legend": {"color": "independent"}}
}
]
}
